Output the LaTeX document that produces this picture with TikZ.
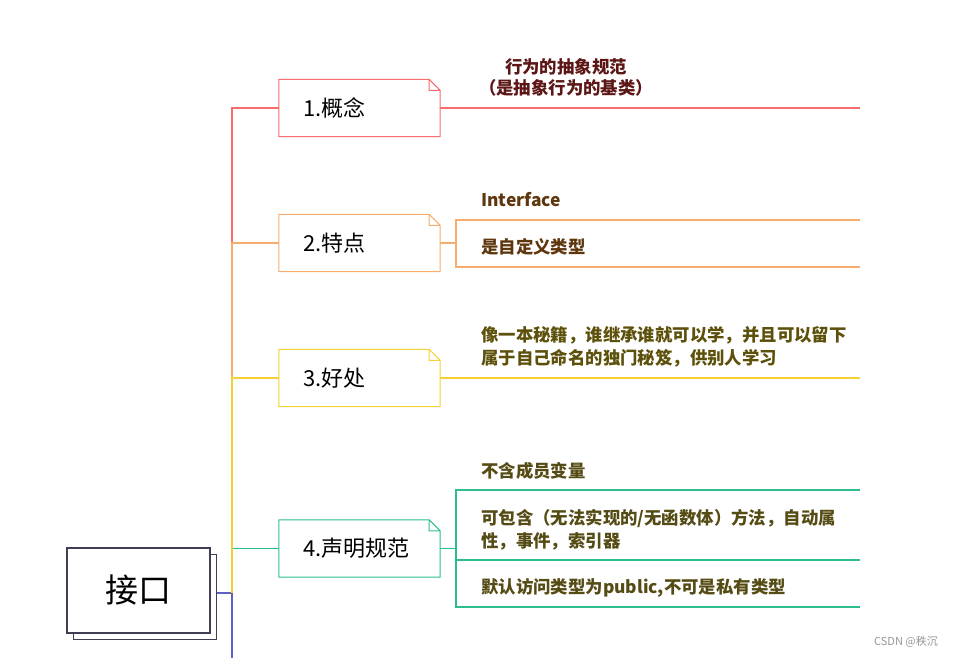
\documentclass[tikz,border=0pt]{standalone}
\usepackage{fontspec}
\usepackage{tikz}
\usetikzlibrary{positioning, calc}
\newfontfamily\cjk{Noto Sans CJK SC}
\definecolor{cRed}{RGB}{247,108,108}
\definecolor{cOrange}{RGB}{245,172,108}
\definecolor{cYellow}{RGB}{245,208,55}
\definecolor{cGreen}{RGB}{45,190,140}
\definecolor{cBlue}{RGB}{95,95,200}
\definecolor{cRoot}{RGB}{62,62,84}
\definecolor{cT1}{RGB}{92,22,22}
\definecolor{cT2}{RGB}{95,55,15}
\definecolor{cT3}{RGB}{92,80,10}
\definecolor{cT4}{RGB}{85,75,20}
\definecolor{cMark}{RGB}{150,150,150}
\tikzset{
	rootbox/.style={rectangle, draw=cRoot, line width=1.2pt, fill=white, minimum width=143pt, minimum height=85pt, font=\cjk\fontsize{33}{36}\selectfont},
	notebox/.style={rectangle, minimum width=161pt, minimum height=57pt, inner xsep=24pt, text width=113pt, align=left, font=\cjk\fontsize{22}{26}\selectfont},
	leaf/.style={anchor=west, inner sep=0pt, align=left, font=\cjk\bfseries\fontsize{17.4}{23}\selectfont},
	branch/.style={line width=1.1pt},
}
\begin{document}
\begin{tikzpicture}[x=1pt, y=-1pt]
	\useasboundingbox (0,0) rectangle (956,658);
	% root topic and its shadow
	\node[rootbox] (shadow) at (145,597) {};
	\node[rootbox] (root) at (138.5,590.5) {接口};
	% main topics
	\node[notebox] (b1) at (359.5,108) {1.概念};
	\node[notebox] (b2) at (359.5,243) {2.特点};
	\node[notebox] (b3) at (359.5,378) {3.好处};
	\node[notebox] (b4) at (359.5,548.5) {4.声明规范};
	\foreach \n/\c in {b1/cRed, b2/cOrange, b3/cYellow, b4/cGreen}
		\draw[\c, line width=1pt] (\n.south west) -- (\n.north west) -- ([xshift=-11pt]\n.north east) -- ([yshift=-11pt]\n.north east) -- (\n.south east) -- cycle
			([xshift=-11pt]\n.north east) |- ([yshift=-11pt]\n.north east);
	% trunk
	\coordinate (trunk) at (232,593);
	\coordinate (foot) at (232,658);
	\coordinate (rim) at (860,0);
	\draw[branch, cBlue] (trunk -| shadow.east) -- (trunk) -- (foot);
	\draw[branch, cRed] (b1.west) -| (b2.west -| trunk);
	\draw[branch, cOrange] (b2.west) -| (b3.west -| trunk);
	\draw[branch, cGreen] (b4.west) -- (b4.west -| trunk);
	\draw[branch, cYellow] (b3.west) -| (trunk);
	% 1
	\draw[branch, cRed] (b1.east) -- (b1.east -| rim);
	\node[leaf, anchor=center, align=center, text=cT1, font=\cjk\bfseries\fontsize{17.4}{21}\selectfont] (l11) at (566,77.5) {行为的抽象规范\\（是抽象行为的基类）};
	% 2
	\coordinate (u21) at (456,220);
	\coordinate (u22) at (456,267);
	\draw[branch, cOrange] (b2.east) -- (b2.east -| u21);
	\draw[branch, cOrange] (u21 -| rim) -- (u21) -- (u22) -- (u22 -| rim);
	\node[leaf, text=cT2] (l21) at (481,200) {Interface};
	\node[leaf, text=cT2] (l22) at (481,247) {是自定义类型};
	% 3
	\draw[branch, cYellow] (b3.east) -- (b3.east -| rim);
	\node[leaf, text=cT3] (l31) at (481,347) {像一本秘籍，谁继承谁就可以学，并且可以留下\\属于自己命名的独门秘笈，供别人学习};
	% 4
	\coordinate (u41) at (456,490);
	\coordinate (u42) at (456,560);
	\coordinate (u43) at (456,607);
	\draw[branch, cGreen] (b4.east) -- (b4.east -| u41);
	\draw[branch, cGreen] (u41 -| rim) -- (u41) -- (u43) -- (u43 -| rim) (u42) -- (u42 -| rim);
	\node[leaf, text=cT4] (l41) at (481,471) {不含成员变量};
	\node[leaf, text=cT4] (l42) at (481,530) {可包含（无法实现的/无函数体）方法，自动属\\性，事件，索引器};
	\node[leaf, text=cT4] (l43) at (481,588) {默认访问类型为public,不可是私有类型};
	\node[font=\cjk\fontsize{11}{13}\selectfont, text=cMark] (mark) at (906,642) {CSDN @秩沉};
\end{tikzpicture}
\end{document}
